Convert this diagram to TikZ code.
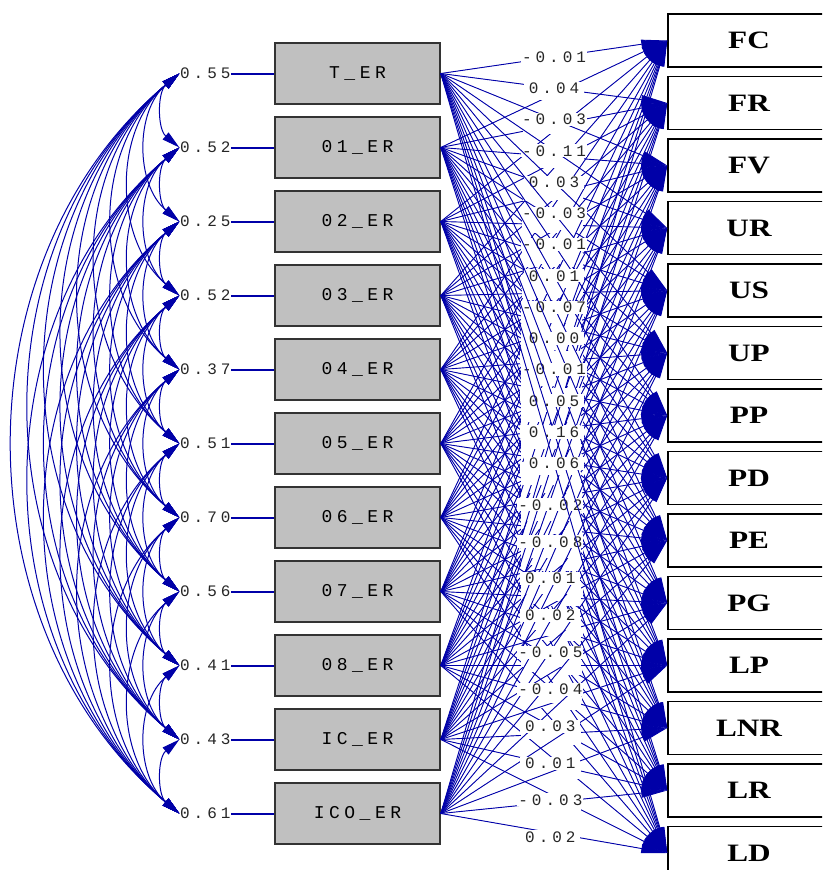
\documentclass[tikz,border=0pt]{standalone}
\usepackage{fontspec}
\usetikzlibrary{arrows.meta,positioning}
\newfontfamily\lisfont[LetterSpace=25]{Liberation Mono}
\newfontfamily\scorefont[FakeStretch=1.25]{Liberation Serif}
\definecolor{lisblue}{RGB}{0,0,168}
\definecolor{boxgray}{RGB}{192,192,192}

\begin{document}
\begin{tikzpicture}[x=1pt, y=-1pt, node distance=11.4pt,
   erbox/.style = {draw=black!80, line width=1.6pt, fill=boxgray,
                   minimum width=165pt, minimum height=61pt,
                   font=\lisfont\fontsize{18}{18}\selectfont},
  obsbox/.style = {draw, line width=1.6pt, fill=white,
                   minimum width=162pt, minimum height=53pt,
                   font=\scorefont\bfseries\fontsize{25}{25}\selectfont},
  errval/.style = {inner sep=0.5pt, text=black!85, font=\lisfont\fontsize{16}{16}\selectfont},
    coef/.style = {fill=white, text=black!85, inner sep=1pt, minimum width=60pt,
                   minimum height=13pt, font=\lisfont\fontsize{16}{16}\selectfont},
  varlink/.style = {draw=lisblue, line width=2pt},
    load/.style = {draw=lisblue, fill=lisblue, line width=0.9pt,
                   -{Triangle[length=26pt,width=9pt]}},
     cov/.style = {draw=lisblue, line width=1pt,
                   {Triangle[length=18pt,width=9pt]}-{Triangle[length=18pt,width=9pt]}},
                        ]
    \useasboundingbox (0,0) rectangle (822,870);
    \clip (0,0) rectangle (822,870);

    % error boxes
    \node [erbox] (ter) at (357.5,73.5) {T\_ER};
    \foreach \n/\t [remember=\n as \p (initially ter)] in
        {o1er/01\_ER, o2er/02\_ER, o3er/03\_ER, o4er/04\_ER, o5er/05\_ER,
         o6er/06\_ER, o7er/07\_ER, o8er/08\_ER, icer/IC\_ER, icoer/ICO\_ER}
        \node [erbox, below=of \p] (\n) {\t};

    % indicator boxes
    \node [obsbox] (fc) at (749,40.5) {FC};
    \foreach \n/\t [remember=\n as \p (initially fc)] in
        {fr/FR, fv/FV, ur/UR, us/US, up/UP, pp/PP, pd/PD, pe/PE, pg/PG,
         lp/LP, lnr/LNR, lr/LR, ld/LD}
        \node [obsbox, below=7.9pt of \p] (\n) {\t};

    % variances
    \foreach \n/\v in {ter/0.55, o1er/0.52, o2er/0.25, o3er/0.52, o4er/0.37, o5er/0.51,
                       o6er/0.70, o7er/0.56, o8er/0.41, icer/0.43, icoer/0.61} {
        \node [errval, left=43pt of \n] (v\n) {\v};
        \draw [varlink] (v\n.east) -- (\n.west);
    }

    % covariances
    \foreach \a [count=\i] in {ter,o1er,o2er,o3er,o4er,o5er,o6er,o7er,o8er,icer,icoer}
      \foreach \b [count=\j] in {ter,o1er,o2er,o3er,o4er,o5er,o6er,o7er,o8er,icer,icoer} {
        \ifnum\j>\i
          \draw [cov] (v\a.west) to[bend right=50] (v\b.west);
        \fi
      }

    % paths, values hidden under later ones
    \foreach \s [count=\i] in {o1er,o2er,o3er,o4er,o5er,o6er,o7er,o8er,icer} {
      \pgfmathsetmacro\where{0.5+0.009*\i}
      \foreach \r in {fc,fr,fv,ur,us,up,pp,pd,pe,pg,lp,lnr,lr,ld}
        \draw [load] (\s.east) -- (\r.west)
              node [coef, pos=\where, xshift={-2.4pt*\i}] {};
    }
    \foreach \r/\c in {fc/{}, fr/{}, fv/{}, ur/{}, us/-0.02, up/-0.08, pp/0.01, pd/0.02,
                       pe/-0.05, pg/-0.04, lp/0.03, lnr/0.01, lr/-0.03, ld/0.02}
        \draw [load] (icoer.east) -- (\r.west) node [coef, pos=0.59, xshift=-24pt] {\c};
    \foreach \r/\c in {fc/-0.01, fr/0.04, fv/-0.03, ur/-0.11, us/0.03, up/-0.03, pp/-0.01,
                       pd/0.01, pe/-0.07, pg/0.00, lp/-0.01, lnr/0.05, lr/0.16, ld/0.06}
        \draw [load] (ter.east) -- (\r.west) node [coef, pos=0.5] {\c};
\end{tikzpicture}
\end{document}
